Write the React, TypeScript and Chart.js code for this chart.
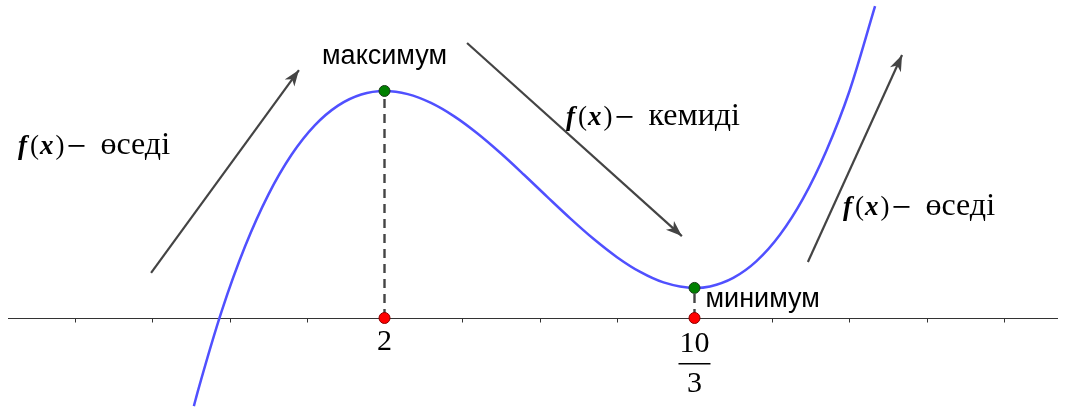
import React, { useEffect, useRef } from "react";
import { Chart, registerables } from "chart.js";

Chart.register(...registerables);

// Curve f(x) (x in axis units, y in chart units)
const curveX = [1.18, 1.2, 1.3, 1.4, 1.5, 1.6, 1.7, 1.8, 1.9, 2.0, 2.1, 2.2, 2.3, 2.4, 2.5, 2.6, 2.7, 2.8, 2.9, 3.0, 3.1, 3.2, 3.3333, 3.4, 3.5, 3.6, 3.7, 3.8, 3.9, 4.0, 4.11];
const curveY = [-0.53, -0.426, 0.043, 0.43, 0.741, 0.982, 1.159, 1.278, 1.345, 1.366, 1.347, 1.294, 1.213, 1.11, 0.991, 0.862, 0.729, 0.598, 0.475, 0.366, 0.277, 0.214, 0.181, 0.19, 0.241, 0.342, 0.499, 0.718, 1.005, 1.366, 1.876];

// Extrema
const extremaX = [2, 3.3333];
const extremaY = [1.366, 0.181];
const extremaNames = ["максимум", "минимум"];

// Axis tick labels (at extrema x)
const tickLabels = ["2", "10/3"];
const tickStep = 1 / 3;

// Trend arrows
const arrowFromX = [0.996, 2.355, 3.821];
const arrowFromY = [0.271, 1.655, 0.337];
const arrowToX = [1.632, 3.279, 4.226];
const arrowToY = [1.492, 0.493, 1.582];
const trendWords = ["өседі", "кемиді", "өседі"];

const X_MIN = 0.3462;
const X_MAX = 4.9484;
const Y_MIN = -0.5596;
const Y_MAX = 1.9134;

const BLUE = "rgb(80,80,255)";
const GREY = "#444444";
const SERIF = "'Liberation Serif', 'DejaVu Serif', serif";
const SANS = "'Liberation Sans', Arial, sans-serif";

export default function App() {
  const ref = useRef<HTMLCanvasElement | null>(null);

  useEffect(() => {
    const canvas = ref.current;
    if (!canvas) return;

    const axisPlugin = {
      id: "axisPlugin",
      beforeDatasetsDraw(chart: any) {
        const { ctx, scales } = chart;
        const xs = scales.x;
        const ys = scales.y;
        const y0 = Math.round(ys.getPixelForValue(0)) + 0.5;
        ctx.save();
        ctx.strokeStyle = "#333333";
        ctx.lineWidth = 1.2;
        ctx.beginPath();
        ctx.moveTo(8, y0);
        ctx.lineTo(1058, y0);
        ctx.stroke();
        // ticks
        ctx.lineWidth = 1;
        for (let k = 1; k * tickStep < X_MAX; k++) {
          const px = Math.round(xs.getPixelForValue(k * tickStep)) + 0.5;
          if (px < 10 || px > 1056) continue;
          ctx.beginPath();
          ctx.moveTo(px, y0);
          ctx.lineTo(px, y0 + 4);
          ctx.stroke();
        }
        ctx.restore();
      },
      afterDatasetsDraw(chart: any) {
        const { ctx, scales } = chart;
        const xs = scales.x;
        const ys = scales.y;
        ctx.save();
        // arrowheads
        ctx.fillStyle = GREY;
        for (let i = 0; i < arrowFromX.length; i++) {
          const x1 = xs.getPixelForValue(arrowFromX[i]);
          const y1 = ys.getPixelForValue(arrowFromY[i]);
          const x2 = xs.getPixelForValue(arrowToX[i]);
          const y2 = ys.getPixelForValue(arrowToY[i]);
          const a = Math.atan2(y2 - y1, x2 - x1);
          const L = 16;
          const W = 6;
          const bx = x2 - L * Math.cos(a);
          const by = y2 - L * Math.sin(a);
          const mx = x2 - L * 0.72 * Math.cos(a);
          const my = y2 - L * 0.72 * Math.sin(a);
          ctx.beginPath();
          ctx.moveTo(x2, y2);
          ctx.lineTo(bx - W * Math.sin(a), by + W * Math.cos(a));
          ctx.lineTo(mx, my);
          ctx.lineTo(bx + W * Math.sin(a), by - W * Math.cos(a));
          ctx.closePath();
          ctx.fill();
        }
        ctx.restore();
      },
      afterDraw(chart: any) {
        const { ctx, scales } = chart;
        const xs = scales.x;
        const ys = scales.y;
        const y0 = ys.getPixelForValue(0);
        ctx.save();
        ctx.fillStyle = "#000000";
        ctx.textBaseline = "alphabetic";

        // trend labels: "f(x) − word"
        const trendPos = [
          [18, 154],
          [566, 125],
          [843, 215],
        ];
        for (let i = 0; i < trendWords.length; i++) {
          let x = trendPos[i][0];
          const y = trendPos[i][1];
          ctx.textAlign = "left";
          ctx.font = `italic bold 27px ${SERIF}`;
          ctx.fillText("f", x, y);
          x += ctx.measureText("f").width + 3;
          ctx.font = `27px ${SERIF}`;
          ctx.fillText("(", x, y);
          x += ctx.measureText("(").width + 1;
          ctx.font = `italic bold 27px ${SERIF}`;
          ctx.fillText("x", x, y);
          x += ctx.measureText("x").width + 2;
          ctx.font = `27px ${SERIF}`;
          ctx.fillText(")", x, y);
          x += ctx.measureText(")").width + 4;
          ctx.fillRect(x, y - 9, 16, 1.8);
          x += 16 + 16;
          ctx.font = `32px ${SERIF}`;
          ctx.fillText(trendWords[i], x, y);
        }

        // extrema names
        ctx.font = `27px ${SANS}`;
        ctx.textAlign = "center";
        ctx.fillText(extremaNames[0], xs.getPixelForValue(extremaX[0]), 64);
        ctx.textAlign = "left";
        ctx.fillText(extremaNames[1], xs.getPixelForValue(extremaX[1]) + 11, 307);

        // tick labels
        ctx.font = `30px ${SERIF}`;
        ctx.textAlign = "center";
        const p0 = xs.getPixelForValue(extremaX[0]);
        ctx.fillText(tickLabels[0], p0, y0 + 32);
        const p1 = xs.getPixelForValue(extremaX[1]);
        const [num, den] = tickLabels[1].split("/");
        ctx.fillText(num, p1, y0 + 34);
        ctx.fillRect(p1 - 16, y0 + 45, 32, 1.5);
        ctx.fillText(den, p1, y0 + 74);
        ctx.restore();
      },
    };

    const datasets: any[] = [
      {
        label: "extrema",
        data: [
          { x: extremaX[0], y: extremaY[0] },
          { x: extremaX[1], y: extremaY[1] },
          { x: extremaX[0], y: 0 },
          { x: extremaX[1], y: 0 },
        ],
        showLine: false,
        pointRadius: 5.5,
        pointBackgroundColor: ["#008000", "#008000", "#ff0000", "#ff0000"],
        pointBorderColor: ["#1a3a1a", "#1a3a1a", "#8a0000", "#8a0000"],
        pointBorderWidth: 1,
      },
      {
        label: "curve",
        data: curveX.map((x, i) => ({ x, y: curveY[i] })),
        borderColor: BLUE,
        borderWidth: 2.5,
        pointRadius: 0,
        cubicInterpolationMode: "monotone",
        fill: false,
      },
      {
        label: "drop",
        data: [
          { x: extremaX[0], y: 0 },
          { x: extremaX[0], y: extremaY[0] },
        ],
        borderColor: GREY,
        borderWidth: 2.4,
        borderDash: [9, 6],
        pointRadius: 0,
      },
      {
        label: "drop2",
        data: [
          { x: extremaX[1], y: 0 },
          { x: extremaX[1], y: extremaY[1] },
        ],
        borderColor: GREY,
        borderWidth: 2.4,
        borderDash: [9, 6],
        pointRadius: 0,
      },
      ...arrowFromX.map((_, i) => ({
        label: "arrow" + i,
        data: [
          { x: arrowFromX[i], y: arrowFromY[i] },
          { x: arrowToX[i], y: arrowToY[i] },
        ],
        borderColor: GREY,
        borderWidth: 2.2,
        pointRadius: 0,
      })),
    ];

    const chart = new Chart(canvas, {
      type: "line",
      data: { datasets },
      options: {
        animation: false,
        responsive: false,
        parsing: true,
        layout: { padding: 0, autoPadding: false },
        plugins: { legend: { display: false }, tooltip: { enabled: false } },
        scales: {
          x: { type: "linear", min: X_MIN, max: X_MAX, display: false },
          y: { type: "linear", min: Y_MIN, max: Y_MAX, display: false },
        },
      },
      plugins: [axisPlugin],
    });
    return () => chart.destroy();
  }, []);

  return (
    <canvas
      ref={ref}
      width={1070}
      height={411}
      style={{ position: "absolute", left: 0, top: 0, width: 1070, height: 411, background: "#ffffff" }}
    />
  );
}
